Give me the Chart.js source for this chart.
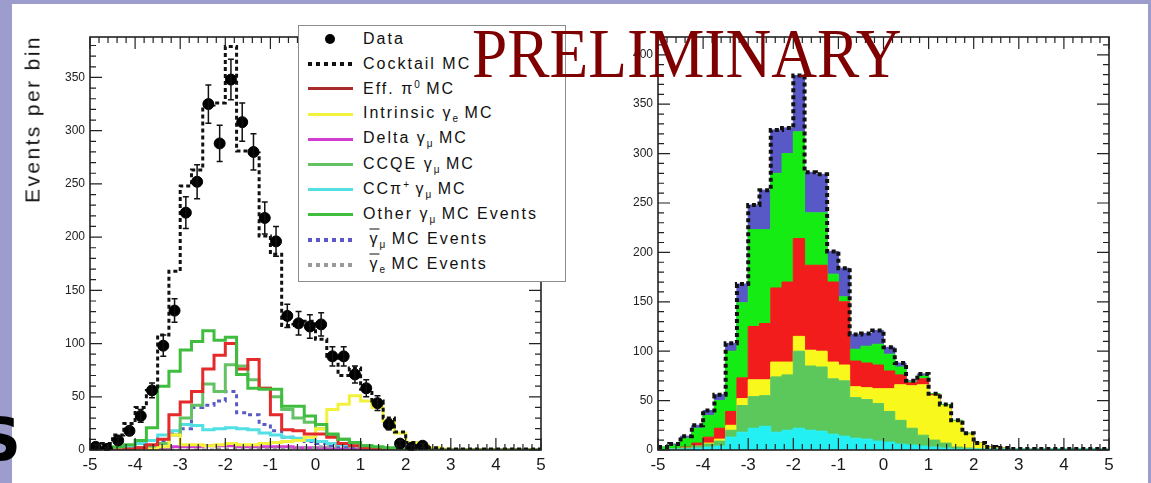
<!DOCTYPE html>
<html>
<head>
<meta charset="utf-8">
<script src="https://cdn.jsdelivr.net/npm/chart.js@4.4.1/dist/chart.umd.min.js"></script>
<style>
    html, body { margin: 0; padding: 0; }
    body {
        width: 1151px; height: 483px; position: relative; overflow: hidden;
        background: #9c9ccd; font-family: "Liberation Sans", Arial, sans-serif;
    }
    #sheet { position: absolute; left: 12px; top: 4px; width: 1136px; height: 479px; background: #fff; }
    canvas { position: absolute; top: 0; }
    #leftChart { left: 0; }
    #rightChart { left: 600px; }
    #ytitle {
        position: absolute; left: 32px; top: 119px; white-space: nowrap;
        font-size: 21px; line-height: 21px; letter-spacing: 2.4px; color: #111;
        transform: translate(-50%, -50%) rotate(-90deg);
    }
    #legend {
        position: absolute; left: 298px; top: 25px; width: 268px; height: 257px;
        box-sizing: border-box; border: 1.5px solid #8c8c8c; background: #fff;
    }
    .row { position: relative; height: 25.2px; }
    .mark { position: absolute; left: 9px; top: 50%; width: 45px; }
    .txt {
        position: absolute; left: 64px; top: 50%; transform: translateY(-52%);
        font-size: 16px; letter-spacing: 2px; color: #111; white-space: nowrap;
    }
    .txt sub, .txt sup { font-size: 10px; letter-spacing: 0; }
    .bar { text-decoration: overline; }
    #prelim {
        position: absolute; left: 472px; top: 19px; white-space: nowrap;
        font-family: "Liberation Serif", "Times New Roman", serif; font-size: 70px; line-height: 70px;
        color: #7e0000; transform: scaleX(0.905); transform-origin: 0 0;
    }
    #bigS {
        position: absolute; left: -21px; top: 411px; font-family: "DejaVu Sans", sans-serif;
        font-weight: bold; font-size: 58px; line-height: 58px; color: #000;
    }
</style>
</head>
<body>
<div id="sheet"></div>
<canvas id="leftChart" width="560" height="483"></canvas>
<canvas id="rightChart" width="551" height="483"></canvas>
<div id="ytitle">Events per bin</div>
<div id="legend"></div>
<div id="prelim">PRELIMINARY</div>
<div id="bigS">S</div>

<script>
// 40 bins of width 0.25 from -5 to 5
const xMin = -5, xMax = 5, binWidth = 0.25, nBins = 40;

const dataCounts = [3, 1, 9, 18, 32, 56, 98, 131, 223, 252, 325, 288, 348, 308, 280, 218, 196, 126, 119, 116,
    118, 88, 88, 71, 58, 44, 24, 6, 2, 4, null, null, null, null, null, null, null, null, null, null];
const dataErrors = [2, 1, 3, 4, 6, 7, 10, 11, 15, 16, 18, 17, 19, 18, 17, 15, 14, 11, 11, 11,
    11, 9, 9, 8, 8, 7, 5, 3, 2, 2, null, null, null, null, null, null, null, null, null, null];

const cocktail = [3, 6, 14, 25, 40, 56, 108, 168, 248, 263, 324, 326, 379, 281, 279, 201, 184, 117, 118, 121,
    104, 88, 70, 77, 57, 46, 30, 17, 7, 3, 2, 1, 1, 1, 1, 1, 1, 1, 1, 1];

// left panel: individual MC components
const piZeroL = [0, 0, 0, 1, 2, 5, 10, 33, 45, 55, 76, 89, 100, 76, 85, 58, 33, 19, 18, 15,
    15, 12, 6, 4, 2, 1, 0, 0, 0, 0, 0, 0, 0, 0, 0, 0, 0, 0, 0, 0];
const intrinsicL = [0, 0, 0, 0, 0, 1, 3, 14, 5, 5, 4, 5, 6, 5, 5, 6, 7, 8, 9, 12,
    20, 38, 43, 51, 46, 40, 27, 16, 7, 4, 2, 1, 0, 0, 0, 0, 0, 0, 0, 0];
const deltaL = [0, 0, 0, 0, 1, 1, 2, 3, 3, 3, 4, 4, 4, 3, 3, 3, 3, 3, 2, 2,
    2, 1, 1, 1, 0, 0, 0, 0, 0, 0, 0, 0, 0, 0, 0, 0, 0, 0, 0, 0];
const ccqeL = [0, 0, 0, 1, 2, 3, 6, 14, 30, 42, 62, 55, 80, 79, 66, 58, 50, 38, 30, 26,
    20, 14, 10, 7, 4, 2, 1, 0, 0, 0, 0, 0, 0, 0, 0, 0, 0, 0, 0, 0];
const ccPipL = [0, 1, 2, 3, 6, 9, 14, 18, 24, 23, 19, 20, 21, 20, 19, 16, 14, 12, 11, 9,
    8, 6, 5, 4, 3, 2, 1, 1, 0, 0, 0, 0, 0, 0, 0, 0, 0, 0, 0, 0];
const otherL = [1, 2, 3, 5, 9, 21, 60, 74, 94, 102, 112, 103, 106, 71, 58, 57, 57, 41, 41, 32,
    24, 15, 10, 7, 4, 3, 2, 1, 0, 0, 0, 0, 0, 0, 0, 0, 0, 0, 0, 0];
const numubarL = [0, 0, 0, 1, 2, 4, 8, 15, 20, 40, 42, 46, 55, 35, 33, 24, 18, 12, 10, 8,
    6, 4, 3, 2, 1, 1, 0, 0, 0, 0, 0, 0, 0, 0, 0, 0, 0, 0, 0, 0];
const nuebarL = [0, 0, 0, 0, 0, 0, 0, 0, 0, 0, 0, 1, 1, 1, 1, 1, 1, 1, 2, 2,
    3, 3, 4, 3, 3, 2, 1, 1, 0, 0, 0, 0, 0, 0, 0, 0, 0, 0, 0, 0];

// right panel: stacked bands, bottom to top
const cyanR = [0, 1, 1, 2, 3, 4, 13, 18, 22, 24, 18, 20, 22, 20, 19, 16, 14, 12, 11, 9,
    8, 6, 5, 4, 3, 2, 1, 1, 1, 1, 1, 1, 1, 1, 1, 1, 1, 1, 1, 1];
const ccqeR = [0, 0, 1, 2, 3, 5, 7, 27, 32, 31, 56, 56, 78, 65, 65, 56, 56, 41, 40, 38,
    31, 24, 17, 11, 7, 5, 2, 1, 0, 0, 0, 0, 0, 0, 0, 0, 0, 0, 0, 0];
const yellowR = [0, 0, 0, 0, 1, 2, 5, 7, 17, 16, 15, 13, 15, 16, 16, 17, 16, 11, 12, 15,
    23, 36, 43, 51, 45, 38, 26, 14, 6, 2, 1, 0, 0, 0, 0, 0, 0, 0, 0, 0];
const redR = [0, 0, 1, 3, 6, 11, 14, 21, 54, 57, 75, 81, 99, 86, 87, 81, 64, 26, 25, 24,
    18, 10, 3, 6, 1, 0, 0, 0, 0, 0, 0, 0, 0, 0, 0, 0, 0, 0, 0, 0];
const greenR = [3, 4, 9, 15, 22, 28, 61, 76, 98, 95, 116, 130, 108, 53, 53, 8, 5, 12, 17, 21,
    17, 8, 1, 3, 1, 1, 1, 1, 0, 0, 0, 0, 0, 0, 0, 0, 0, 0, 0, 0];
const blueR = [0, 1, 2, 3, 5, 6, 8, 19, 25, 40, 44, 26, 57, 41, 39, 23, 29, 15, 13, 14,
    7, 4, 1, 2, 0, 0, 0, 0, 0, 0, 0, 0, 0, 0, 0, 0, 0, 0, 0, 0];

const xTickLabelsStep = 1;
const leftYMax = 388, rightYMax = 418;

const colors = {
    red: '#e42a2a', yellow: '#f2f23c', magenta: '#d23cd2', ccqe: '#64c264',
    cyan: '#52e0e4', other: '#3fbd3f', blue: '#5a5ac6', gray: '#9a9a9a'
};

const edges = Array.from({ length: nBins + 1 }, (_, i) => xMin + i * binWidth);

// step histogram points at bin edges (last edge repeats the last bin)
function hist(values) {
    const pts = values.map((v, i) => ({ x: edges[i], y: v }));
    pts.push({ x: edges[nBins], y: values[nBins - 1] });
    return pts;
}

function histLine(values, color, order, dash) {
    return {
        data: hist(values), stepped: true, borderColor: color, borderWidth: 3,
        borderDash: dash || [], pointRadius: 0, fill: false, order: order,
        borderJoinStyle: 'miter'
    };
}

// ROOT style frame with inward ticks on all four sides
const rootFrame = {
    id: 'rootFrame',
    afterDatasetsDraw(chart) {
        const { ctx, chartArea: a, scales: { x, y } } = chart;
        ctx.save();
        ctx.strokeStyle = '#222';
        ctx.lineWidth = 1.2;
        ctx.beginPath();
        for (let i = 0; i <= 50; i++) {
            const v = xMin + i * 0.2;
            const px = x.getPixelForValue(v);
            const len = i % 5 === 0 ? 12 : 6;
            ctx.moveTo(px, a.bottom); ctx.lineTo(px, a.bottom - len);
            ctx.moveTo(px, a.top); ctx.lineTo(px, a.top + len);
        }
        for (let v = 0; v <= y.max; v += 10) {
            const py = y.getPixelForValue(v);
            const len = v % 50 === 0 ? 12 : 6;
            ctx.moveTo(a.left, py); ctx.lineTo(a.left + len, py);
            ctx.moveTo(a.right, py); ctx.lineTo(a.right - len, py);
        }
        ctx.stroke();
        ctx.lineWidth = 1.6;
        ctx.strokeRect(a.left, a.top, a.right - a.left, a.bottom - a.top);
        ctx.restore();
    }
};

const errorBars = {
    id: 'errorBars',
    afterDatasetsDraw(chart) {
        const { ctx, scales: { x, y } } = chart;
        ctx.save();
        ctx.strokeStyle = '#111';
        ctx.lineWidth = 1.5;
        ctx.beginPath();
        dataCounts.forEach((v, i) => {
            if (v === null) return;
            const px = x.getPixelForValue(edges[i] + binWidth / 2);
            const top = y.getPixelForValue(v + dataErrors[i]);
            const bot = y.getPixelForValue(Math.max(0, v - dataErrors[i]));
            ctx.moveTo(px, top); ctx.lineTo(px, bot);
            ctx.moveTo(px - 3, top); ctx.lineTo(px + 3, top);
            ctx.moveTo(px - 3, bot); ctx.lineTo(px + 3, bot);
        });
        ctx.stroke();
        ctx.restore();
    }
};

function axes(yMax, stacked) {
    return {
        x: {
            type: 'linear', min: xMin, max: xMax,
            grid: { display: false, drawTicks: false }, border: { display: false },
            ticks: { stepSize: xTickLabelsStep, maxRotation: 0, padding: 5, color: '#1a1a1a',
                font: { family: 'Liberation Sans', size: 17 } },
            afterFit: s => { s.height = 30; }
        },
        y: {
            min: 0, max: yMax, stacked: stacked,
            grid: { display: false, drawTicks: false }, border: { display: false },
            ticks: { stepSize: 50, includeBounds: false, padding: 5, color: '#222',
                font: { family: 'Liberation Sans', size: 12 } },
            afterFit: s => { s.width = 40; }
        }
    };
}

const commonOptions = {
    responsive: false, animation: false,
    plugins: { legend: { display: false }, tooltip: { enabled: false } }
};

new Chart(document.getElementById('leftChart'), {
    type: 'line',
    data: {
        datasets: [
            {
                data: dataCounts.map((v, i) => ({ x: edges[i] + binWidth / 2, y: v })),
                showLine: false, pointRadius: 5.5, pointBackgroundColor: '#000',
                pointBorderColor: '#000', order: 0
            },
            histLine(cocktail, '#111', 1, [4, 3]),
            histLine(otherL, colors.other, 2),
            histLine(piZeroL, colors.red, 3),
            histLine(intrinsicL, colors.yellow, 4),
            histLine(ccqeL, colors.ccqe, 5),
            histLine(ccPipL, colors.cyan, 6),
            histLine(numubarL, colors.blue, 7, [4, 4]),
            histLine(nuebarL, colors.gray, 8, [4, 4]),
            histLine(deltaL, colors.magenta, 9)
        ]
    },
    options: Object.assign({}, commonOptions, {
        layout: { padding: { left: 50, right: 19, top: 37, bottom: 3 } },
        scales: axes(leftYMax, false)
    }),
    plugins: [rootFrame, errorBars]
});

function band(values, color, fill) {
    return {
        data: hist(values), stepped: true, stack: 'mc', fill: fill,
        backgroundColor: color, borderColor: color, borderWidth: 1, pointRadius: 0, order: 1
    };
}

new Chart(document.getElementById('rightChart'), {
    type: 'line',
    data: {
        datasets: [
            band(cyanR, '#22f0f2', 'origin'),
            band(ccqeR, '#5cc85c', '-1'),
            band(yellowR, '#f8f81c', '-1'),
            band(redR, '#f21c1c', '-1'),
            band(greenR, '#14ec14', '-1'),
            band(blueR, '#5858c6', '-1'),
            {
                data: hist(cocktail), stepped: true, stack: 'outline', fill: false,
                borderColor: '#111', borderWidth: 4, borderDash: [4, 3], pointRadius: 0, order: 0
            }
        ]
    },
    options: Object.assign({}, commonOptions, {
        layout: { padding: { left: 18, right: 42, top: 37, bottom: 3 } },
        scales: axes(rightYMax, true)
    }),
    plugins: [rootFrame]
});

// legend built from the same styles
const legendItems = [
    { html: 'Data', kind: 'dot', color: '#000' },
    { html: 'Cocktail MC', kind: 'dash', color: '#111' },
    { html: 'Eff. π<sup>0</sup> MC', kind: 'line', color: '#a82c2c' },
    { html: 'Intrinsic γ<sub>e</sub> MC', kind: 'line', color: colors.yellow },
    { html: 'Delta γ<sub>μ</sub> MC', kind: 'line', color: colors.magenta },
    { html: 'CCQE γ<sub>μ</sub> MC', kind: 'line', color: colors.ccqe },
    { html: 'CCπ<sup>+</sup> γ<sub>μ</sub> MC', kind: 'line', color: colors.cyan },
    { html: 'Other γ<sub>μ</sub> MC Events', kind: 'line', color: colors.other },
    { html: '&nbsp;<span class="bar">γ</span><sub>μ</sub> MC Events', kind: 'dash', color: colors.blue },
    { html: '&nbsp;<span class="bar">γ</span><sub>e</sub> MC Events', kind: 'dash', color: colors.gray }
];

const legendEl = document.getElementById('legend');
legendItems.forEach(item => {
    const row = document.createElement('div');
    row.className = 'row';
    let mark;
    if (item.kind === 'dot') {
        mark = `<div class="mark" style="height:0"><div style="position:absolute;left:17px;top:-5px;width:10px;height:10px;border-radius:50%;background:${item.color}"></div></div>`;
    } else if (item.kind === 'dash') {
        mark = `<div class="mark" style="height:4px;margin-top:-2px;background:repeating-linear-gradient(90deg, ${item.color} 0 4px, transparent 4px 8px)"></div>`;
    } else {
        mark = `<div class="mark" style="height:3px;margin-top:-1.5px;background:${item.color}"></div>`;
    }
    row.innerHTML = mark + `<div class="txt">${item.html}</div>`;
    legendEl.appendChild(row);
});
</script>
</body>
</html>
